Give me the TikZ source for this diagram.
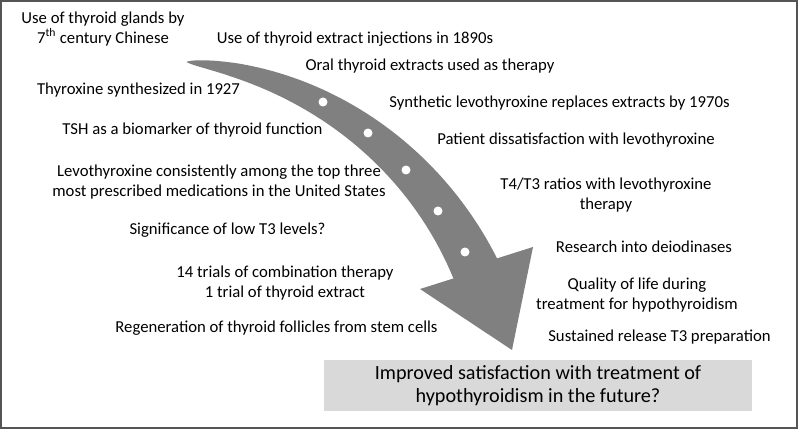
\documentclass[tikz,border=0pt]{standalone}
\usepackage{fontspec}
\setmainfont{Carlito}
\definecolor{arrowgray}{RGB}{128,128,128}
\definecolor{boxgray}{RGB}{217,217,217}
\definecolor{framegray}{RGB}{85,85,85}
\begin{document}
\begin{tikzpicture}[x=1pt,y=-1pt,
  lbl/.style={font=\fontsize{16.7}{19.5}\selectfont, align=center, inner sep=0pt, text=black},
  goalbox/.style={fill=boxgray, minimum width=428pt, minimum height=51pt, align=center, inner sep=0pt,
     font=\fontsize{20.2}{22.5}\selectfont, text=black},
  dot/.style={fill=white}]
\useasboundingbox (0,0) rectangle (800,430);
\draw[framegray, line width=2pt] (1,1) rectangle (797,428);
\def\acx{150}\def\acy{418}\def\arr{358}
\fill[arrowgray] (186.8,61.9)
  -- plot[domain=84:24.7, samples=90, variable=\t]
     ({\acx+(\arr+24*pow((84.1-\t)/59.4,0.6))*cos(\t)},{\acy-(\arr+24*pow((84.1-\t)/59.4,0.6))*sin(\t)})
  -- (533,247) -- (512,350) -- (420,289)
  -- plot[domain=24.7:84, samples=90, variable=\t]
     ({\acx+(\arr-24*pow((84.1-\t)/59.4,0.6))*cos(\t)},{\acy-(\arr-24*pow((84.1-\t)/59.4,0.6))*sin(\t)})
  -- cycle;
\foreach \p in {(323,102),(368,133),(406,170),(438,211),(465,252)}
  \fill[dot] \p circle (4.5);
\node[lbl] (t1) at (103,29) {Use of thyroid glands by\\7\textsuperscript{th} century Chinese};
\node[lbl] (t2) at (355,39) {Use of thyroid extract injections in 1890s};
\node[lbl] (t3) at (430,66) {Oral thyroid extracts used as therapy};
\node[lbl] (t4) at (138.5,90) {Thyroxine synthesized in 1927};
\node[lbl] (t5) at (559.5,103) {Synthetic levothyroxine replaces extracts by 1970s};
\node[lbl] (t6) at (192.5,130) {TSH as a biomarker of thyroid function};
\node[lbl] (t7) at (576,140) {Patient dissatisfaction with levothyroxine};
\node[lbl] (t8) at (219,182) {Levothyroxine consistently among the top three\\most prescribed medications in the United States};
\node[lbl] (t9) at (606,195) {T4/T3 ratios with levothyroxine\\therapy};
\node[lbl] (t10) at (227.5,230) {Significance of low T3 levels?};
\node[lbl] (t11) at (644,247) {Research into deiodinases};
\node[lbl] (t12) at (285,283) {14 trials of combination therapy\\1 trial of thyroid extract};
\node[lbl] (t13) at (637,295) {Quality of life during\\treatment for hypothyroidism};
\node[lbl] (t14) at (276.5,328) {Regeneration of thyroid follicles from stem cells};
\node[lbl] (t15) at (659.5,337) {Sustained release T3 preparation};
\node[goalbox] (goal) at (538,385.5) {Improved satisfaction with treatment of\\hypothyroidism in the future?};
\end{tikzpicture}
\end{document}
